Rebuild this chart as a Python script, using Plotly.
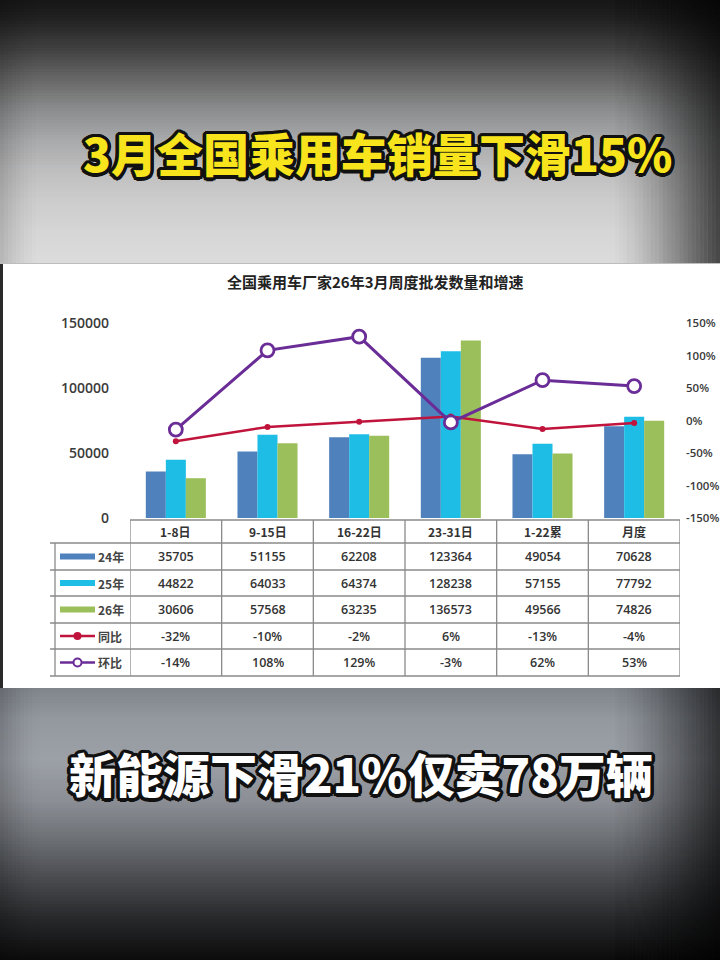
import math
import plotly.graph_objects as go

# ---------------- data ----------------
categories = ["1-8日", "9-15日", "16-22日", "23-31日", "1-22累", "月度"]
sales_24 = [35705, 51155, 62208, 123364, 49054, 70628]
sales_25 = [44822, 64033, 64374, 128238, 57155, 77792]
sales_26 = [30606, 57568, 63235, 136573, 49566, 74826]
yoy_pct = [-32, -10, -2, 6, -13, -4]
mom_pct = [-14, 108, 129, -3, 62, 53]
series_names = ["24年", "25年", "26年", "同比", "环比"]
left_ticks = [0, 50000, 100000, 150000]
right_ticks = [-150, -100, -50, 0, 50, 100, 150]
headline = "3月全国乘用车销量下滑15%"
subline = "新能源下滑21%仅卖78万辆"
chart_title = "全国乘用车厂家26年3月周度批发数量和增速"

# ---------------- style ----------------
W, H = 720, 960
C24, C25, C26 = "#4f81bd", "#1dbde6", "#9bbf5a"
CYOY, CMOM = "#c0143c", "#6a2c96"


def py(y):
    return 1 - y / H


def px(x):
    return x / W


shapes = []


def lerp_stops(stops, y):
    for (y0, c0), (y1, c1) in zip(stops[:-1], stops[1:]):
        if y0 <= y <= y1:
            t = (y - y0) / (y1 - y0) if y1 > y0 else 0
            return tuple(int(round(a + (b - a) * t)) for a, b in zip(c0, c1))
    return stops[-1][1]


def band_region(y_top, y_bot, stops, step=3):
    y = y_top
    while y < y_bot:
        yb = min(y + step, y_bot)
        r, g, b = lerp_stops(stops, y + step / 2)
        shapes.append(dict(type="rect", xref="paper", yref="paper", layer="below",
                           x0=0, x1=1, y0=py(min(yb + 0.6, y_bot)), y1=py(y),
                           fillcolor=f"rgb({r},{g},{b})", line_width=0))
        y = yb


def vignette(y_top, y_bot, x_from, x_to, amax, step=4, power=1.6):
    n = int(abs(x_to - x_from) / step)
    for i in range(n):
        xa = x_from + (x_to - x_from) * i / n
        xb = x_from + (x_to - x_from) * (i + 1) / n
        t = (i + 0.5) / n
        a = amax * (t ** power) * 0.35
        shapes.append(dict(type="rect", xref="paper", yref="paper", layer="below",
                           x0=px(min(xa, xb)), x1=px(max(xa, xb)),
                           y0=py(y_bot), y1=py(y_top),
                           fillcolor=f"rgba(0,0,0,{a:.3f})", line_width=0))


top_stops = [(0, (22, 22, 22)), (20, (34, 34, 34)), (50, (66, 66, 66)), (80, (104, 104, 104)),
             (110, (140, 141, 142)), (140, (168, 169, 170)), (170, (190, 190, 191)),
             (200, (204, 204, 205)), (230, (213, 213, 213)), (263, (220, 220, 220))]
bot_stops = [(688, (128, 133, 140)), (720, (148, 153, 160)), (760, (156, 160, 167)),
             (800, (140, 143, 149)), (840, (108, 111, 116)), (880, (72, 74, 78)),
             (920, (38, 39, 41)), (960, (12, 12, 12))]

band_region(0, 263, top_stops)
band_region(688, 960, bot_stops)
for k in range(3):
    vignette(0, 263, 610, 720, 0.9)
    vignette(688, 960, 610, 720, 0.9)
vignette(0, 263, 40, 0, 0.5)
vignette(688, 960, 40, 0, 0.6)

# white chart panel
shapes.append(dict(type="rect", xref="paper", yref="paper", layer="below",
                   x0=0, x1=1, y0=py(688), y1=py(263), fillcolor="white", line_width=0))
shapes.append(dict(type="rect", xref="paper", yref="paper", layer="below",
                   x0=0, x1=px(3), y0=py(688), y1=py(263), fillcolor="#2a2a2a", line_width=0))
shapes.append(dict(type="line", xref="paper", yref="paper", layer="below",
                   x0=0, x1=1, y0=py(263.5), y1=py(263.5), line=dict(color="#bdbdbd", width=1)))

# ---------------- figure ----------------
fig = go.Figure()
for name, vals, col in zip(series_names[:3], [sales_24, sales_25, sales_26], [C24, C25, C26]):
    fig.add_trace(go.Bar(x=categories, y=vals, name=name, marker=dict(color=col, line_width=0),
                         yaxis="y", xaxis="x"))

fig.add_trace(go.Scatter(x=categories, y=yoy_pct, name=series_names[3], yaxis="y2", xaxis="x",
                         mode="lines+markers", line=dict(color=CYOY, width=2.5),
                         marker=dict(color=CYOY, size=6, symbol="circle")))
fig.add_trace(go.Scatter(x=categories, y=mom_pct, name=series_names[4], yaxis="y2", xaxis="x",
                         mode="lines+markers", line=dict(color=CMOM, width=3),
                         marker=dict(color="white", size=13, symbol="circle",
                                     line=dict(color=CMOM, width=2.8))))

# ---------------- table (grid + texts) ----------------
row_edges = [543, 570, 596, 623, 649, 676]
header_top = 520
grid_col = "#8a8a8a"
n = len(categories)
shapes.append(dict(type="line", xref="x", yref="paper", x0=-0.5, x1=n - 0.5,
                   y0=py(header_top), y1=py(header_top), line=dict(color=grid_col, width=1.3)))
for ye in row_edges:
    shapes.append(dict(type="line", xref="paper", yref="paper", x0=px(50), x1=px(680),
                       y0=py(ye), y1=py(ye), line=dict(color=grid_col, width=1.3)))
for k in range(n + 1):
    shapes.append(dict(type="line", xref="x", yref="paper", x0=k - 0.5, x1=k - 0.5,
                       y0=py(row_edges[-1]), y1=py(header_top),
                       line=dict(color=grid_col, width=1.3)))
shapes.append(dict(type="line", xref="paper", yref="paper", x0=px(55), x1=px(55),
                   y0=py(row_edges[-1]), y1=py(row_edges[0]), line=dict(color=grid_col, width=1.3)))

annotations = []
tfont = dict(family="Open Sans, Noto Sans CJK SC", size=12.5, color="#333333", weight=600)
for cat in categories:
    annotations.append(dict(x=cat, xref="x", y=py((header_top + row_edges[0]) / 2), yref="paper",
                            text=cat, showarrow=False, xanchor="center", yanchor="middle",
                            font=dict(tfont, family="Noto Sans CJK SC", size=12, weight=700)))
rows = [sales_24, sales_25, sales_26,
        [f"{v}%" for v in yoy_pct], [f"{v}%" for v in mom_pct]]
row_colors = [C24, C25, C26, CYOY, CMOM]
for r, (vals, col, nm) in enumerate(zip(rows, row_colors, series_names)):
    yc = py((row_edges[r] + row_edges[r + 1]) / 2)
    for cat, v in zip(categories, vals):
        annotations.append(dict(x=cat, xref="x", y=yc, yref="paper", text=str(v),
                                showarrow=False, xanchor="center", yanchor="middle", font=tfont))
    if r < 3:
        shapes.append(dict(type="line", xref="paper", yref="paper", x0=px(60), x1=px(95),
                           y0=yc, y1=yc, line=dict(color=col, width=6)))
    else:
        shapes.append(dict(type="line", xref="paper", yref="paper", x0=px(60), x1=px(95),
                           y0=yc, y1=yc, line=dict(color=col, width=2.5)))
        rr = 3 if r == 3 else 4
        shapes.append(dict(type="circle", xref="paper", yref="paper",
                           x0=px(77.5 - rr), x1=px(77.5 + rr), y0=yc - rr / H, y1=yc + rr / H,
                           fillcolor=col if r == 3 else "white", line=dict(color=col, width=2)))
    annotations.append(dict(x=px(96), xref="paper", y=yc, yref="paper", text=nm,
                            xanchor="left", yanchor="middle", showarrow=False,
                            font=dict(family="Noto Sans CJK SC", size=12, color="#444", weight=700)))

annotations.append(dict(x=px(375), y=py(282), xref="paper", yref="paper", text=chart_title,
                        showarrow=False, xanchor="center", yanchor="middle",
                        font=dict(family="Noto Sans CJK SC", size=15, color="#222", weight=700)))


def outline(w, color, n=16):
    parts = []
    for k in range(n):
        a = 2 * math.pi * k / n
        parts.append(f"{w * math.cos(a):.1f}px {w * math.sin(a):.1f}px 0px {color}")
    return ", ".join(parts)


annotations.append(dict(x=px(377), y=py(152), xref="paper", yref="paper", text=headline,
                        showarrow=False, xanchor="center", yanchor="middle",
                        font=dict(family="Noto Sans CJK SC", size=46, color="#f8e41c", weight=900,
                                  shadow=outline(3.5, "#111"))))
annotations.append(dict(x=px(361), y=py(772), xref="paper", yref="paper", text=subline,
                        showarrow=False, xanchor="center", yanchor="middle",
                        font=dict(family="Noto Sans CJK SC", size=47, color="#ffffff", weight=900,
                                  shadow=outline(3.5, "#111"))))

fig.update_layout(
    width=W, height=H, autosize=False,
    margin=dict(l=0, r=0, t=0, b=0, pad=0, autoexpand=False),
    paper_bgcolor="white", plot_bgcolor="rgba(0,0,0,0)",
    showlegend=False,
    barmode="group", bargap=0.345, bargroupgap=0,
    xaxis=dict(domain=[px(130), px(680)], showticklabels=False, showgrid=False, automargin=False,
               zeroline=False, showline=False, ticks="", range=[-0.5, n - 0.5], fixedrange=True),
    yaxis=dict(domain=[py(518), py(323)], range=[0, 150000], tickvals=left_ticks,
               tickformat="d", showgrid=False, zeroline=False, showline=False, automargin=False,
               ticklabelstandoff=20,
               tickfont=dict(family="Open Sans", size=14, color="#3a3a3a", weight=600)),
    yaxis2=dict(overlaying="y", side="right", range=[-150, 150], tickvals=right_ticks,
                ticktext=[f"{v}%" for v in right_ticks], showgrid=False, zeroline=False,
                showline=False, ticklabelstandoff=5, automargin=False,
                tickfont=dict(family="Open Sans", size=11.5, color="#3a3a3a", weight=600)),
    shapes=shapes,
    annotations=annotations,
)

fig.write_html("out.html", config={"displayModeBar": False},
               post_script="document.body.style.margin='0';")
